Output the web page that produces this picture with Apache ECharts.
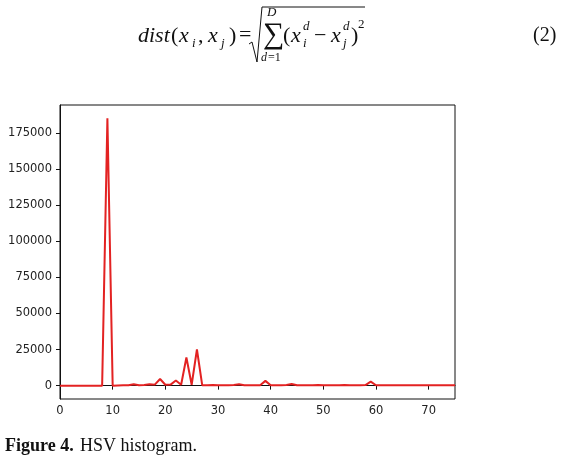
<!DOCTYPE html>
<html>
<head>
<meta charset="utf-8">
<script src="https://cdn.jsdelivr.net/npm/echarts@6/dist/echarts.min.js"></script>
<style>
  html, body { margin: 0; padding: 0; background: #fff; }
  #main { width: 561px; height: 460px; }
</style>
</head>
<body>
<div id="main"></div>
<script>
// HSV histogram bin counts, bin index 0..75
var hist = [
  0, 0, 0, 0, 0, 0, 0, 0, 0, 185000,
  0, 100, 200, 300, 900, 300, 400, 1000, 700, 4600,
  600, 700, 3500, 600, 19500, 600, 25000, 300, 300, 400,
  200, 200, 300, 500, 900, 300, 200, 200, 300, 3300,
  200, 200, 300, 400, 1100, 300, 200, 200, 300, 500,
  200, 200, 200, 300, 500, 200, 200, 200, 400, 2800,
  300, 200, 200, 200, 200, 200, 200, 200, 200, 200,
  200, 200, 200, 200, 200, 200
];
var yTicks = [0, 25000, 50000, 75000, 100000, 125000, 150000, 175000];
var xTicks = [0, 10, 20, 30, 40, 50, 60, 70];

var serif = '"Liberation Serif", "DejaVu Serif", serif';

// formula pieces: [text, x, y, size, italic]
var formula = [
  ['dist', 138, 36, 22, true],
  ['(', 171, 36, 22, false],
  ['x', 179, 36, 22, true],
  ['i', 192, 44, 13, true],
  [',', 198, 36, 22, false],
  ['x', 208, 36, 22, true],
  ['j', 221, 44, 13, true],
  [')', 229, 36, 22, false],
  ['=', 239, 35, 22, false],
  ['\u2211', 263, 35, 30, false],
  ['D', 267, 13, 13, true],
  ['d', 261, 58, 12, true],
  ['=1', 268, 58, 12, false],
  ['(', 283, 36, 22, false],
  ['x', 291, 36, 22, true],
  ['d', 303, 27, 13, true],
  ['i', 303, 44, 13, true],
  ['\u2212', 314, 36, 22, false],
  ['x', 331, 36, 22, true],
  ['d', 343, 27, 13, true],
  ['j', 343, 44, 13, true],
  [')', 351, 36, 22, false],
  ['2', 358, 25, 13, false],
  ['(2)', 533, 36, 20, false]
];

var graphics = formula.map(function (f) {
  return {
    type: 'text', left: f[1], top: f[2] - f[3] / 2,
    style: {
      text: f[0], fill: '#111', font: (f[4] ? 'italic ' : '') + f[3] + 'px ' + serif
    }
  };
});
// radical sign
graphics.push({
  type: 'polyline',
  shape: { points: [[249, 44], [252, 42], [257, 62], [262, 7], [365, 7]] },
  style: { stroke: '#111', lineWidth: 1, fill: null }
});
// caption
graphics.push({
  type: 'text', left: 5, top: 437,
  style: { text: 'Figure 4.', fill: '#111', font: 'bold 18px ' + serif }
});
graphics.push({
  type: 'text', left: 80, top: 437,
  style: { text: 'HSV histogram.', fill: '#111', font: '18px ' + serif }
});

var chart = echarts.init(document.getElementById('main'), null, { renderer: 'canvas' });

var option = {
  animation: false,
  backgroundColor: '#fff',
  grid: {
    left: 60, right: 106, top: 105, bottom: 61,
    show: true, borderColor: '#111', borderWidth: 1
  },
  xAxis: {
    type: 'value', min: 0, max: 75,
    splitLine: { show: false },
    axisLine: { show: true, lineStyle: { color: '#111' } },
    axisTick: { show: true, length: 4, customValues: xTicks, lineStyle: { color: '#111' } },
    axisLabel: {
      customValues: xTicks, margin: 6,
      color: '#222', fontFamily: 'DejaVu Sans', fontSize: 11.5
    }
  },
  yAxis: {
    type: 'value', min: -9250, max: 194250,
    splitLine: { show: false },
    axisLine: { show: true, lineStyle: { color: '#111' } },
    axisTick: { show: true, length: 4, customValues: yTicks, lineStyle: { color: '#111' } },
    axisLabel: {
      customValues: yTicks, margin: 8,
      color: '#222', fontFamily: 'DejaVu Sans', fontSize: 11.5,
      formatter: function (v) { return String(v); }
    }
  },
  series: [{
    type: 'line',
    data: hist.map(function (v, i) { return [i, v]; }),
    showSymbol: false,
    lineStyle: { color: '#e32222', width: 2 },
    clip: true
  }],
  graphic: graphics
};

chart.setOption(option);
</script>
</body>
</html>
